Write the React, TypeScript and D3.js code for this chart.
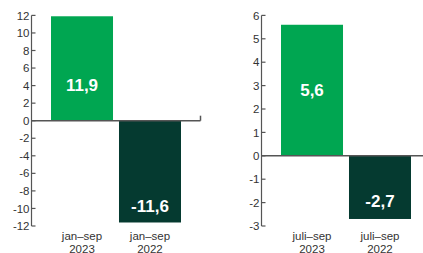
import React from 'react';
import * as d3 from 'd3';

// left panel: jan–sep
const periodsYtd = ['jan–sep 2023', 'jan–sep 2022'];
const valuesYtd = [11.9, -11.6];
const ticksYtd = [12, 10, 8, 6, 4, 2, 0, -2, -4, -6, -8, -10, -12];

// right panel: juli–sep
const periodsQ3 = ['juli–sep 2023', 'juli–sep 2022'];
const valuesQ3 = [5.6, -2.7];
const ticksQ3 = [6, 5, 4, 3, 2, 1, 0, -1, -2, -3];

const W = 423;
const H = 253;
const barColors = ['#00a651', '#053a30'];
const font = '"Liberation Sans", Arial, sans-serif';

type PanelProps = {
  cats: string[];
  values: number[];
  ticks: number[];
  axisX: number;
  barRange: [number, number];
  lineEnd: number;
  endTick: boolean;
  labelFrac: number[];
};

const Panel = ({ cats, values, ticks, axisX, barRange, lineEnd, endTick, labelFrac }: PanelProps) => {
  const y = d3.scaleLinear()
    .domain([d3.min(ticks)!, d3.max(ticks)!])
    .range([226, 15.4]);
  const x = d3.scaleBand<string>()
    .domain(cats)
    .range(barRange)
    .paddingInner(0.088);
  const fmt = (v: number) => d3.format('.1f')(v).replace('.', ',').replace('−', '-');
  const y0 = y(0);

  return (
    <g>
      {values.map((v, i) => (
        <rect
          key={cats[i]}
          x={x(cats[i])}
          y={Math.min(y(v), y0)}
          width={x.bandwidth()}
          height={Math.abs(y(v) - y0)}
          fill={barColors[i]}
        />
      ))}
      {/* y axis */}
      <line x1={axisX} x2={axisX} y1={y(ticks[0])} y2={y(ticks[ticks.length - 1])} stroke="#555" strokeWidth={1.2} />
      {ticks.map(t => (
        <g key={t} transform={`translate(0,${y(t)})`}>
          <line x1={axisX} x2={axisX + 4} stroke="#555" strokeWidth={1.2} />
          <text x={axisX - 2} dy="0.36em" textAnchor="end" fontSize={11.5} fill="#333" fontFamily={font}>
            {t}
          </text>
        </g>
      ))}
      {/* zero line */}
      <line x1={axisX} x2={lineEnd} y1={y0} y2={y0} stroke="#555" strokeWidth={1.5} />
      {endTick && <line x1={lineEnd} x2={lineEnd} y1={y0 - 5} y2={y0} stroke="#555" strokeWidth={1.5} />}
      {/* value labels */}
      {values.map((v, i) => (
        <text
          key={'l' + i}
          x={x(cats[i])! + x.bandwidth() / 2}
          y={y(v * labelFrac[i])}
          dy="0.36em"
          textAnchor="middle"
          fontSize={17}
          fontWeight="bold"
          fill="#fff"
          fontFamily={font}
        >
          {fmt(v)}
        </text>
      ))}
      {/* category labels */}
      {cats.map(c => {
        const parts = c.split(' ');
        return (
          <text key={c} x={x(c)! + x.bandwidth() / 2} y={240} textAnchor="middle" fontSize={11.5} fill="#333" fontFamily={font}>
            <tspan x={x(c)! + x.bandwidth() / 2}>{parts[0]}</tspan>
            <tspan x={x(c)! + x.bandwidth() / 2} dy={13}>{parts[1]}</tspan>
          </text>
        );
      })}
    </g>
  );
};

export default function App() {
  return (
    <svg
      width={W}
      height={H}
      style={{ position: 'absolute', left: 0, top: 0, background: '#fff' }}
    >
      <Panel
        cats={periodsYtd}
        values={valuesYtd}
        ticks={ticksYtd}
        axisX={31.5}
        barRange={[51, 181]}
        lineEnd={200.5}
        endTick={true}
        labelFrac={[0.345, 0.84]}
      />
      <Panel
        cats={periodsQ3}
        values={valuesQ3}
        ticks={ticksQ3}
        axisX={261.5}
        barRange={[281, 411]}
        lineEnd={W}
        endTick={false}
        labelFrac={[0.5, 0.72]}
      />
    </svg>
  );
}
